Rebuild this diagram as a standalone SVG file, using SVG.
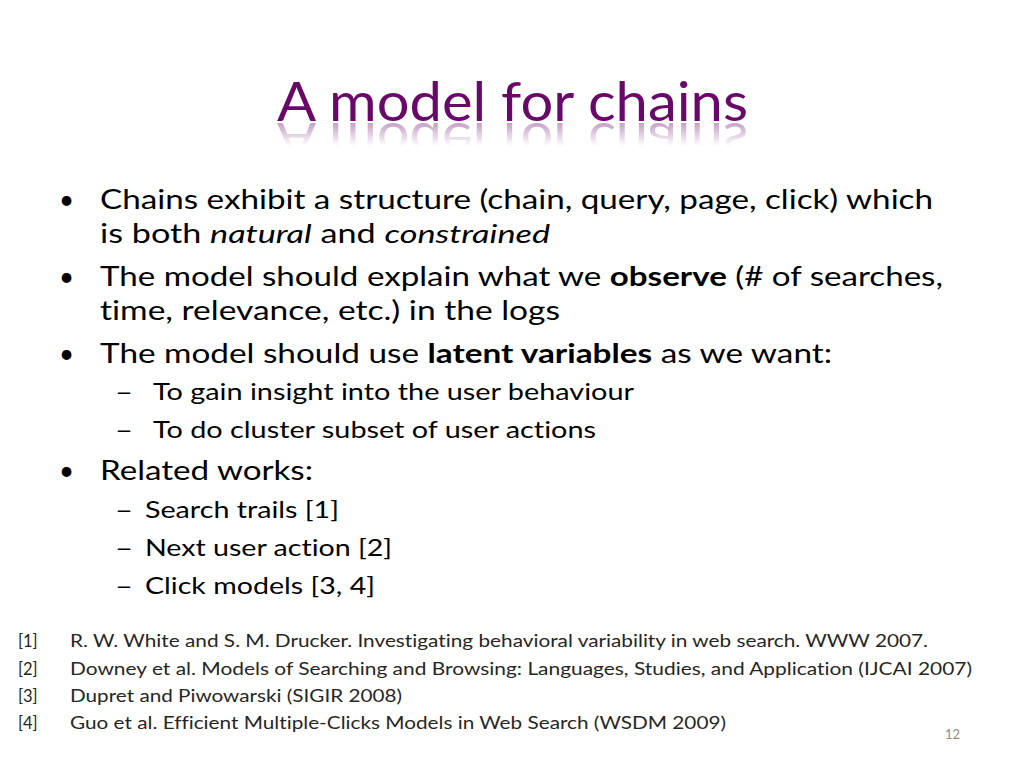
<svg xmlns="http://www.w3.org/2000/svg" width="1024" height="768" viewBox="0 0 1024 768">
<defs>
<style>
text{font-variant-ligatures:none;font-feature-settings:"liga" 0,"clig" 0;}
.t{font-family:Lato,"Open Sans","Liberation Sans",sans-serif;fill:#000;}
.b1{font-size:26px;}
.b2{font-size:22.5px;}
.ref{font-family:Lato,"Open Sans","Liberation Sans",sans-serif;font-size:16.5px;fill:#262626;}
.title{font-family:Lato,"Open Sans","Liberation Sans",sans-serif;font-size:55px;fill:#680868;}
.it{font-style:italic;}
.bd{font-weight:bold;}
</style>
<linearGradient id="fade" x1="0" y1="122" x2="0" y2="146" gradientUnits="userSpaceOnUse">
<stop offset="0" stop-color="#fff" stop-opacity="0.4"/>
<stop offset="1" stop-color="#fff" stop-opacity="0"/>
</linearGradient>
<mask id="refl" maskUnits="userSpaceOnUse" x="0" y="118" width="1024" height="40">
<rect x="0" y="118" width="1024" height="40" fill="url(#fade)"/>
</mask>
</defs>
<rect width="1024" height="768" fill="#fff"/>
<g id="title">
<text class="title" x="277" y="121" textLength="471" lengthAdjust="spacingAndGlyphs">A model for chains</text>
<g mask="url(#refl)">
<text class="title" x="277" y="121" textLength="471" lengthAdjust="spacingAndGlyphs" transform="translate(0,244) scale(1,-1)">A model for chains</text>
</g>
</g>
<g id="body" class="t">
<text class="t b1" x="59" y="209">•</text>
<text class="t b1" x="100" y="209" textLength="833" lengthAdjust="spacingAndGlyphs">Chains exhibit a structure (chain, query, page, click) which</text>
<text class="t b1" x="100" y="243" textLength="450" lengthAdjust="spacingAndGlyphs">is both <tspan class="it">natural</tspan> and <tspan class="it">constrained</tspan></text>
<text class="t b1" x="59" y="286">•</text>
<text class="t b1" x="100" y="286" textLength="843" lengthAdjust="spacingAndGlyphs">The model should explain what we <tspan class="bd">observe</tspan> (# of searches,</text>
<text class="t b1" x="100" y="320" textLength="460" lengthAdjust="spacingAndGlyphs">time, relevance, etc.) in the logs</text>
<text class="t b1" x="59" y="363">•</text>
<text class="t b1" x="100" y="363" textLength="732" lengthAdjust="spacingAndGlyphs">The model should use <tspan class="bd">latent variables</tspan> as we want:</text>
<text class="t b2" x="115" y="400" textLength="18" lengthAdjust="spacingAndGlyphs">–</text>
<text class="t b2" x="153" y="400" textLength="481" lengthAdjust="spacingAndGlyphs">To gain insight into the user behaviour</text>
<text class="t b2" x="115" y="438" textLength="18" lengthAdjust="spacingAndGlyphs">–</text>
<text class="t b2" x="153" y="438" textLength="443" lengthAdjust="spacingAndGlyphs">To do cluster subset of user actions</text>
<text class="t b1" x="59" y="480">•</text>
<text class="t b1" x="100" y="480" textLength="213" lengthAdjust="spacingAndGlyphs">Related works:</text>
<text class="t b2" x="115" y="518" textLength="18" lengthAdjust="spacingAndGlyphs">–</text>
<text class="t b2" x="145" y="518" textLength="194" lengthAdjust="spacingAndGlyphs">Search trails [1]</text>
<text class="t b2" x="115" y="556" textLength="18" lengthAdjust="spacingAndGlyphs">–</text>
<text class="t b2" x="145" y="556" textLength="247" lengthAdjust="spacingAndGlyphs">Next user action [2]</text>
<text class="t b2" x="115" y="594" textLength="18" lengthAdjust="spacingAndGlyphs">–</text>
<text class="t b2" x="145" y="594" textLength="230" lengthAdjust="spacingAndGlyphs">Click models [3, 4]</text>
</g>
<g id="references">
<text class="ref" x="18" y="647">[1]</text>
<text class="ref" x="70" y="647" textLength="858" lengthAdjust="spacingAndGlyphs">R. W. White and S. M. Drucker. Investigating behavioral variability in web search. WWW 2007.</text>
<text class="ref" x="18" y="675">[2]</text>
<text class="ref" x="70" y="675" textLength="902" lengthAdjust="spacingAndGlyphs">Downey et al. Models of Searching and Browsing: Languages, Studies, and Application (IJCAI 2007)</text>
<text class="ref" x="18" y="702">[3]</text>
<text class="ref" x="70" y="702" textLength="332" lengthAdjust="spacingAndGlyphs">Dupret and Piwowarski (SIGIR 2008)</text>
<text class="ref" x="18" y="729">[4]</text>
<text class="ref" x="70" y="729" textLength="656" lengthAdjust="spacingAndGlyphs">Guo et al. Efficient Multiple-Clicks Models in Web Search (WSDM 2009)</text>
</g>
<text id="pagenum" x="945" y="739" style="font-family:Lato,'Open Sans','Liberation Sans',sans-serif;font-size:13px;fill:#8c8c8c;">12</text>
</svg>
